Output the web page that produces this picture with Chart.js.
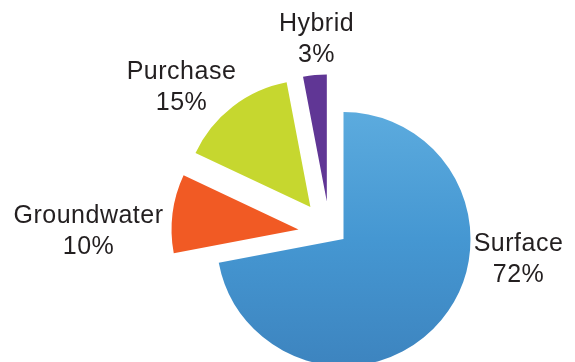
<!DOCTYPE html>
<html>
<head>
<meta charset="utf-8">
<script src="https://cdn.jsdelivr.net/npm/chart.js@4"></script>
<style>
    html, body { margin: 0; padding: 0; background: #ffffff; }
    #wrap { position: relative; width: 575px; height: 362px; }
</style>
</head>
<body>
<div id="wrap"><canvas id="source-pie"></canvas></div>
<script>
// water source shares (percent)
var sourceLabels = ['Surface', 'Groundwater', 'Purchase', 'Hybrid'];
var sourceValues = [72, 10, 15, 3];
var sliceColors = ['#4a9bd5', '#f15a24', '#c6d72f', '#603695'];

// exploded slices: distance (px) and direction (deg, clockwise from 12 o'clock)
var explodeDist = [0, 46, 46, 41];
var explodeDir = [0, 282, 314, 336];

// label anchor relative to pie centre (x = text centre, y = first baseline)
var labelOffsets = [[175, 12], [-255, -16], [-162, -160], [-27, -208]];

var pieRadius = 127;

// Surface slice gets a soft top-to-bottom blue gradient
function sliceColor(context) {
    var i = context.dataIndex;
    if (i !== 0) return sliceColors[i];
    var area = context.chart.chartArea;
    if (!area) return sliceColors[0];
    var cy = (area.top + area.bottom) / 2;
    var g = context.chart.ctx.createLinearGradient(0, cy - pieRadius, 0, cy + pieRadius);
    g.addColorStop(0, '#5cabde');
    g.addColorStop(0.5, '#4597d2');
    g.addColorStop(1, '#3d84bf');
    return g;
}

// pull slices away from the centre
var explodeSlices = {
    id: 'explodeSlices',
    afterDatasetUpdate: function (chart, args) {
        var meta = args.meta;
        var cx = meta.data[0].x, cy = meta.data[0].y;
        meta.data.forEach(function (arc, i) {
            var a = explodeDir[i] * Math.PI / 180;
            arc.x = cx + explodeDist[i] * Math.sin(a);
            arc.y = cy - explodeDist[i] * Math.cos(a);
        });
    }
};

var pieLabels = {
    id: 'pieLabels',
    afterDatasetsDraw: function (chart) {
        var meta = chart.getDatasetMeta(0);
        var cx = meta.data[0].x, cy = meta.data[0].y;
        var ctx = chart.ctx;
        ctx.save();
        ctx.font = '25px "Liberation Sans", Arial, sans-serif';
        ctx.letterSpacing = '0.5px';
        ctx.fillStyle = '#231f20';
        ctx.textAlign = 'center';
        ctx.textBaseline = 'alphabetic';
        meta.data.forEach(function (arc, i) {
            var x = cx + labelOffsets[i][0];
            var y = cy + labelOffsets[i][1];
            ctx.fillText(sourceLabels[i], x, y);
            ctx.fillText(sourceValues[i] + '%', x, y + 31);
        });
        ctx.restore();
    }
};

var ctx = document.getElementById('source-pie').getContext('2d');

var pieChart = new Chart(ctx, {
    type: 'pie',
    data: {
        labels: sourceLabels,
        datasets: [{
            data: sourceValues,
            backgroundColor: sliceColor,
            borderWidth: 0,
            radius: pieRadius,
            clip: false
        }]
    },
    options: {
        responsive: true,
        maintainAspectRatio: false,
        animation: false,
        events: [],
        rotation: 0,
        layout: {
            padding: { left: 112, right: 0, top: 116, bottom: 0 }
        },
        plugins: {
            legend: { display: false },
            tooltip: { enabled: false }
        }
    },
    plugins: [explodeSlices, pieLabels]
});
</script>
</body>
</html>
